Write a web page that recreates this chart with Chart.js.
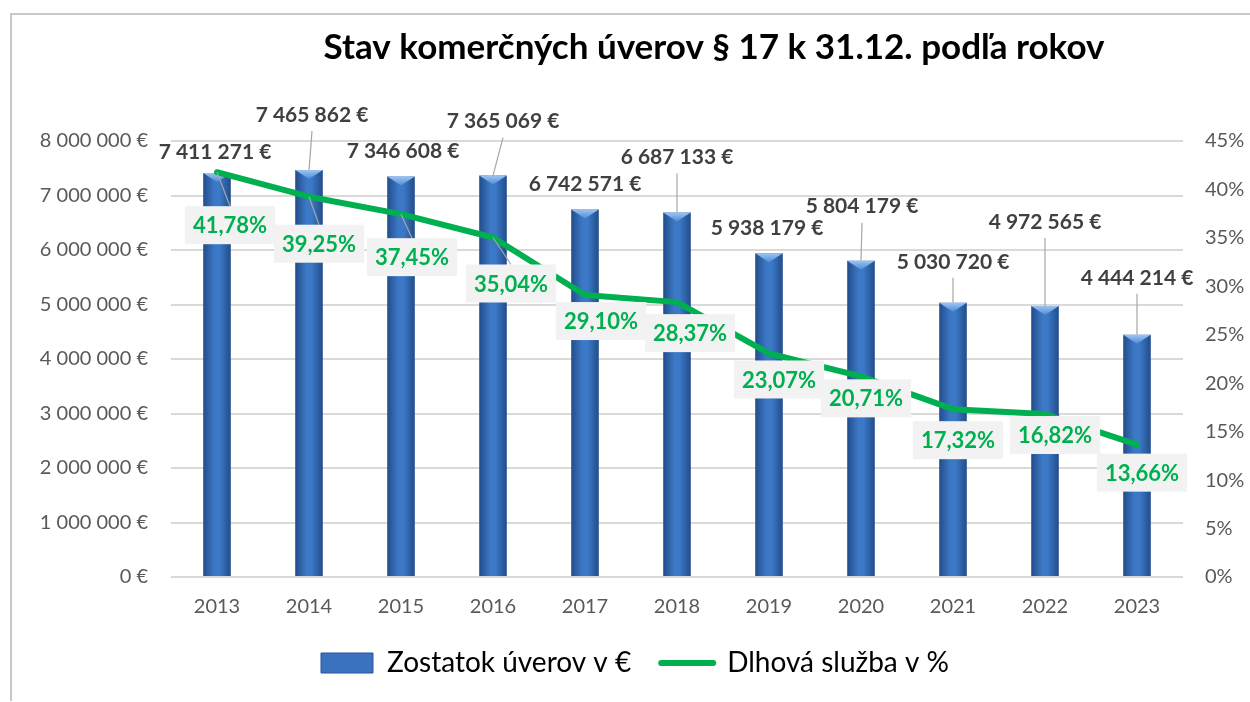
<!DOCTYPE html>
<html lang="sk">
<head>
<meta charset="utf-8">
<title>Stav komerčných úverov § 17</title>
<script src="https://cdn.jsdelivr.net/npm/chart.js@4.4.1/dist/chart.umd.min.js"></script>
<style>
  html, body { margin: 0; padding: 0; background: #fff; }
  #wrap { position: relative; width: 1250px; height: 702px; overflow: hidden; }
  #frame { position: absolute; left: 10px; top: 13px; width: 1300px; height: 686px;
           border-left: 2px solid #c8c8c8; border-top: 2px solid #c8c8c8; }
  #chart { position: absolute; left: 0; top: 0; }
</style>
</head>
<body>
<div id="wrap">
  <div id="frame"></div>
  <canvas id="chart" width="1250" height="702"></canvas>
</div>
<script>
// ── Data ──────────────────────────────────────────────
const TITLE    = 'Stav komerčných úverov § 17 k 31.12. podľa rokov';
const YEARS    = ['2013', '2014', '2015', '2016', '2017', '2018', '2019', '2020', '2021', '2022', '2023'];
const LOANS    = [7411271, 7465862, 7346608, 7365069, 6742571, 6687133, 5938179, 5804179, 5030720, 4972565, 4444214];
const DEBT_PCT = [41.78, 39.25, 37.45, 35.04, 29.10, 28.37, 23.07, 20.71, 17.32, 16.82, 13.66];
const LOAN_AXIS = { max: 8000000, step: 1000000 };
const PCT_AXIS  = { max: 45, step: 5 };

// label placement (px offset from the mark)
const LOAN_LABEL_OFF = [[-2,-21],[3,-55],[2,-25],[10,-54],[0,-25],[0,-55],[-2,-25],[1,-54],[0,-41],[0,-84],[0,-57]];
const PCT_LABEL_OFF  = [[13,53],[10,47],[11,43],[18,46],[16,26],[13,31],[10,26],[5,22],[5,31],[10,21],[5,28]];

const FONT    = 'Lato, "Open Sans", sans-serif';
const GREEN   = '#00b050';
const BAR_PCT = 0.3;

const fmtEUR = v => String(v).replace(/\B(?=(\d{3})+(?!\d))/g, ' ') + ' €';
const fmtPct = v => v.toFixed(2).replace('.', ',') + '%';

// ── Bar fill: horizontal gradient per bar ─────────────
function barFill(c) {
  const chart = c.chart;
  const xs = chart.scales && chart.scales.x;
  if (!xs || c.dataIndex == null || !chart.chartArea) return '#3a70bd';
  const cx = xs.getPixelForValue(c.dataIndex);
  const half = (xs.width / YEARS.length) * BAR_PCT / 2;
  const g = chart.ctx.createLinearGradient(cx - half, 0, cx + half, 0);
  g.addColorStop(0, '#224c8a');
  g.addColorStop(0.4, '#3b78c6');
  g.addColorStop(0.6, '#3b78c6');
  g.addColorStop(1, '#224c8a');
  return g;
}

// ── Plugins ───────────────────────────────────────────
const titlePlugin = {
  id: 'bigTitle',
  afterDraw(chart) {
    const ctx = chart.ctx;
    ctx.save();
    ctx.font = `bold 35px ${FONT}`;
    ctx.fillStyle = '#000';
    ctx.textAlign = 'center';
    ctx.textBaseline = 'middle';
    ctx.fillText(TITLE, 714, 48);
    ctx.restore();
  }
};

const bevelPlugin = {
  id: 'bevel',
  afterDatasetDraw(chart, args) {
    if (args.index !== 0) return;
    const ctx = chart.ctx;
    ctx.save();
    chart.getDatasetMeta(0).data.forEach(bar => {
      const { x, y, width } = bar.getProps(['x', 'y', 'width'], true);
      const g = ctx.createLinearGradient(0, y, 0, y + 9);
      g.addColorStop(0, '#9cc4f2');
      g.addColorStop(1, '#4f8bd6');
      ctx.fillStyle = g;
      ctx.beginPath();
      ctx.moveTo(x - width / 2, y);
      ctx.lineTo(x + width / 2, y);
      ctx.lineTo(x, y + 9);
      ctx.closePath();
      ctx.fill();
    });
    ctx.restore();
  }
};

const labelPlugin = {
  id: 'valueLabels',
  afterDatasetsDraw(chart) {
    const ctx = chart.ctx;
    const bars = chart.getDatasetMeta(0).data;
    const pts  = chart.getDatasetMeta(1).data;
    ctx.save();
    ctx.textAlign = 'center';
    ctx.textBaseline = 'middle';
    ctx.strokeStyle = '#a6a6a6';
    ctx.lineWidth = 1.2;

    // loan values above bars
    ctx.font = `bold 21px ${FONT}`;
    LOANS.forEach((v, i) => {
      const b = bars[i];
      const lx = b.x + LOAN_LABEL_OFF[i][0], ly = b.y + LOAN_LABEL_OFF[i][1];
      if (b.y - (ly + 16) > 15) {
        ctx.beginPath(); ctx.moveTo(lx, ly + 16); ctx.lineTo(b.x, b.y); ctx.stroke();
      }
      ctx.fillStyle = '#404040';
      ctx.fillText(fmtEUR(v), lx, ly);
    });

    // percentage boxes under the line
    ctx.font = `bold 22px ${FONT}`;
    DEBT_PCT.forEach((v, i) => {
      const p = pts[i];
      const lx = p.x + PCT_LABEL_OFF[i][0], ly = p.y + PCT_LABEL_OFF[i][1];
      const txt = fmtPct(v);
      const w = ctx.measureText(txt).width + 16, h = 38;
      const top = ly - h / 2;
      if (top - p.y > 15) {
        ctx.beginPath(); ctx.moveTo(p.x, p.y); ctx.lineTo(lx, top); ctx.stroke();
      }
      ctx.fillStyle = '#f2f2f2';
      ctx.fillRect(lx - w / 2, top, w, h);
      ctx.fillStyle = GREEN;
      ctx.fillText(txt, lx, ly + 1);
    });
    ctx.restore();
  }
};

// ── Chart ─────────────────────────────────────────────
const tickFont = { family: FONT, size: 20 };

new Chart(document.getElementById('chart'), {
  data: {
    labels: YEARS,
    datasets: [
      {
        type: 'bar',
        label: 'Zostatok úverov v €',
        data: LOANS,
        yAxisID: 'y',
        backgroundColor: barFill,
        barPercentage: BAR_PCT,
        categoryPercentage: 1,
        order: 1,
      },
      {
        type: 'line',
        label: 'Dlhová služba v %',
        data: DEBT_PCT,
        yAxisID: 'y1',
        borderColor: GREEN,
        backgroundColor: GREEN,
        borderWidth: 6,
        borderCapStyle: 'round',
        borderJoinStyle: 'round',
        pointRadius: 0,
        tension: 0,
        order: 0,
      },
    ],
  },
  options: {
    responsive: false,
    animation: false,
    layout: { padding: { left: 20, right: 0, top: 141, bottom: 15 } },
    plugins: {
      title: { display: false },
      tooltip: { enabled: false },
      legend: {
        position: 'bottom',
        labels: {
          color: '#595959',
          font: { family: FONT, size: 28 },
          padding: 30,
          usePointStyle: true,
          pointStyleWidth: 52,
          boxHeight: 20,
          generateLabels: () => [
            { text: 'Zostatok úverov v €', fillStyle: '#3a72c0', strokeStyle: '#2a5796', lineWidth: 1, pointStyle: 'rect', datasetIndex: 0 },
            { text: 'Dlhová služba v %', fillStyle: GREEN, strokeStyle: GREEN, lineWidth: 6, lineCap: 'round', pointStyle: 'line', datasetIndex: 1 },
          ],
        },
      },
    },
    scales: {
      x: {
        grid: { display: false, drawTicks: false },
        border: { display: false },
        ticks: { color: '#595959', font: tickFont, padding: 18 },
        afterFit: s => { s.height = 42; },
      },
      y: {
        position: 'left',
        min: 0, max: LOAN_AXIS.max,
        grid: { color: '#d9d9d9', lineWidth: 2, drawTicks: false },
        border: { display: false },
        ticks: { stepSize: LOAN_AXIS.step, color: '#595959', font: tickFont, padding: 23, callback: v => fmtEUR(v) },
        afterFit: s => { s.width = 151; },
      },
      y1: {
        position: 'right',
        min: 0, max: PCT_AXIS.max,
        grid: { display: false, drawTicks: false },
        border: { display: false },
        ticks: { stepSize: PCT_AXIS.step, color: '#595959', font: tickFont, padding: 22, callback: v => v + '%' },
        afterFit: s => { s.width = 67; },
      },
    },
  },
  plugins: [bevelPlugin, labelPlugin, titlePlugin],
});
</script>
</body>
</html>
